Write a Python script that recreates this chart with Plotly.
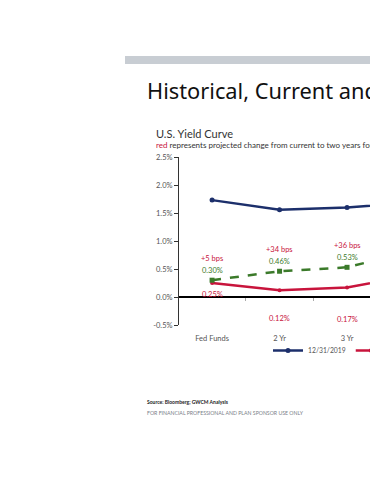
import plotly.graph_objects as go

# ---- data ----
categories = ["Fed Funds", "2 Yr", "3 Yr", "5 Yr"]
yield_2019 = [1.73, 1.56, 1.60, 1.69]
yield_current = [0.25, 0.12, 0.17, 0.39]
yield_projected = [0.30, 0.46, 0.53, 0.83]
bps_labels = ["+5 bps", "+34 bps", "+36 bps", "+44 bps"]
y_ticks = [-0.5, 0.0, 0.5, 1.0, 1.5, 2.0, 2.5]
series_names = ["12/31/2019", "6/30/2020", "Projected (2 yrs forward)"]

W, H = 370, 480
L, R, T, B = 179, 0, 157, 155
PW, PH = W - L - R, H - T - B

def px(x):
    return (x - L) / PW

def py(y):
    return (H - B - y) / PH

BLUE = "#1c2f6b"
RED = "#c8143c"
GREEN = "#3b7a2a"
FONT = "Lato"

fig = go.Figure()
fig.add_trace(go.Scatter(x=categories, y=yield_2019, name=series_names[0], mode="lines+markers",
                         line=dict(color=BLUE, width=2.5), marker=dict(size=5, color=BLUE)))
fig.add_trace(go.Scatter(x=categories, y=yield_current, name=series_names[1], mode="lines+markers",
                         line=dict(color=RED, width=2.5), marker=dict(size=4, color=RED)))
fig.add_trace(go.Scatter(x=categories, y=yield_projected, name=series_names[2], mode="lines+markers",
                         showlegend=False,
                         line=dict(color=GREEN, width=2.5, dash="dash"),
                         marker=dict(size=5, color=GREEN, symbol="square")))
# carrier for boundary tick axis
fig.add_trace(go.Scatter(x=[], y=[], xaxis="x2", showlegend=False, hoverinfo="skip"))

ann = []
red_shift = [-11, -28, -32, -30]
for i, c in enumerate(categories):
    ann.append(dict(x=c, y=yield_projected[i], text=f"{yield_projected[i]:.2f}%", showarrow=False,
                    yshift=10, font=dict(size=7.5, color=GREEN, family=FONT)))
    ann.append(dict(x=c, y=yield_projected[i], text=bps_labels[i], showarrow=False,
                    yshift=22, font=dict(size=7.5, color=RED, family=FONT)))
    ann.append(dict(x=c, y=yield_current[i], text=f"{yield_current[i]:.2f}%", showarrow=False,
                    yshift=red_shift[i], font=dict(size=7.5, color=RED, family=FONT)))

# slide texts (clipped at the right edge like the reference crop)
ann.append(dict(xref="paper", yref="paper", x=px(145), y=py(90), xanchor="left", yanchor="middle",
                width=W - 145, align="left",
                text="Historical, Current and Projected Yields", showarrow=False,
                font=dict(size=21.8, color="#111111", family="Noto Sans")))
ann.append(dict(xref="paper", yref="paper", x=px(154), y=py(133), xanchor="left", yanchor="middle",
                text="U.S. Yield Curve", showarrow=False,
                font=dict(size=11, color="#333333", family=FONT)))
ann.append(dict(xref="paper", yref="paper", x=px(154), y=py(145), xanchor="left", yanchor="middle",
                width=W - 154, align="left",
                text=f"<span style='color:{RED}'>red</span> represents projected change from current to two years forward",
                showarrow=False, font=dict(size=8, color="#333333", family=FONT)))
ann.append(dict(xref="paper", yref="paper", x=px(145), y=py(402), xanchor="left", yanchor="middle",
                text="<b>Source: Bloomberg; GWCM Analysis</b>", showarrow=False,
                font=dict(size=5, color="#222222", family=FONT)))
ann.append(dict(xref="paper", yref="paper", x=px(145), y=py(413), xanchor="left", yanchor="middle",
                text="FOR FINANCIAL PROFESSIONAL AND PLAN SPONSOR USE ONLY", showarrow=False,
                font=dict(size=5.2, color="#7a8088", family=FONT)))

shapes = [dict(type="rect", xref="paper", yref="paper", x0=px(125), x1=px(372), y0=py(64), y1=py(56),
               fillcolor="#c8cdd3", line=dict(width=0), layer="below")]

fig.update_layout(
    width=W, height=H, margin=dict(l=L, r=R, t=T, b=B, autoexpand=False),
    paper_bgcolor="white", plot_bgcolor="white",
    font=dict(family=FONT, size=7, color="#555555"),
    showlegend=True,
    legend=dict(orientation="h", x=px(268), y=py(336), xanchor="left", yanchor="top",
                font=dict(size=6.8, color="#555555", family=FONT), bgcolor="rgba(0,0,0,0)"),
    xaxis=dict(type="category", categoryorder="array", categoryarray=categories,
               range=[-0.49, 2.34], showline=False, showgrid=False, zeroline=False,
               ticks="", ticklabelstandoff=7, tickfont=dict(size=7.5, color="#555555")),
    xaxis2=dict(overlaying="x", anchor="free", position=py(297), range=[-0.49, 2.34],
                tickmode="array", tickvals=[0.5, 1.5, 2.5], ticks="outside", ticklen=3,
                tickcolor="#aaaaaa", showticklabels=False, showline=False, showgrid=False,
                zeroline=False),
    yaxis=dict(range=[-0.5, 2.5], tickvals=y_ticks, ticktext=[f"{v:.1f}%" for v in y_ticks],
               showline=True, linecolor="#333333", linewidth=1, ticks="outside", ticklen=4,
               tickcolor="#333333", showgrid=False, zeroline=True, zerolinecolor="#000000",
               zerolinewidth=1.5, tickfont=dict(size=7.5, color="#555555")),
    annotations=ann, shapes=shapes,
)

fig.write_html("out.html", config={"displayModeBar": False},
               post_script="document.body.style.margin='0';document.body.style.overflow='hidden';")
